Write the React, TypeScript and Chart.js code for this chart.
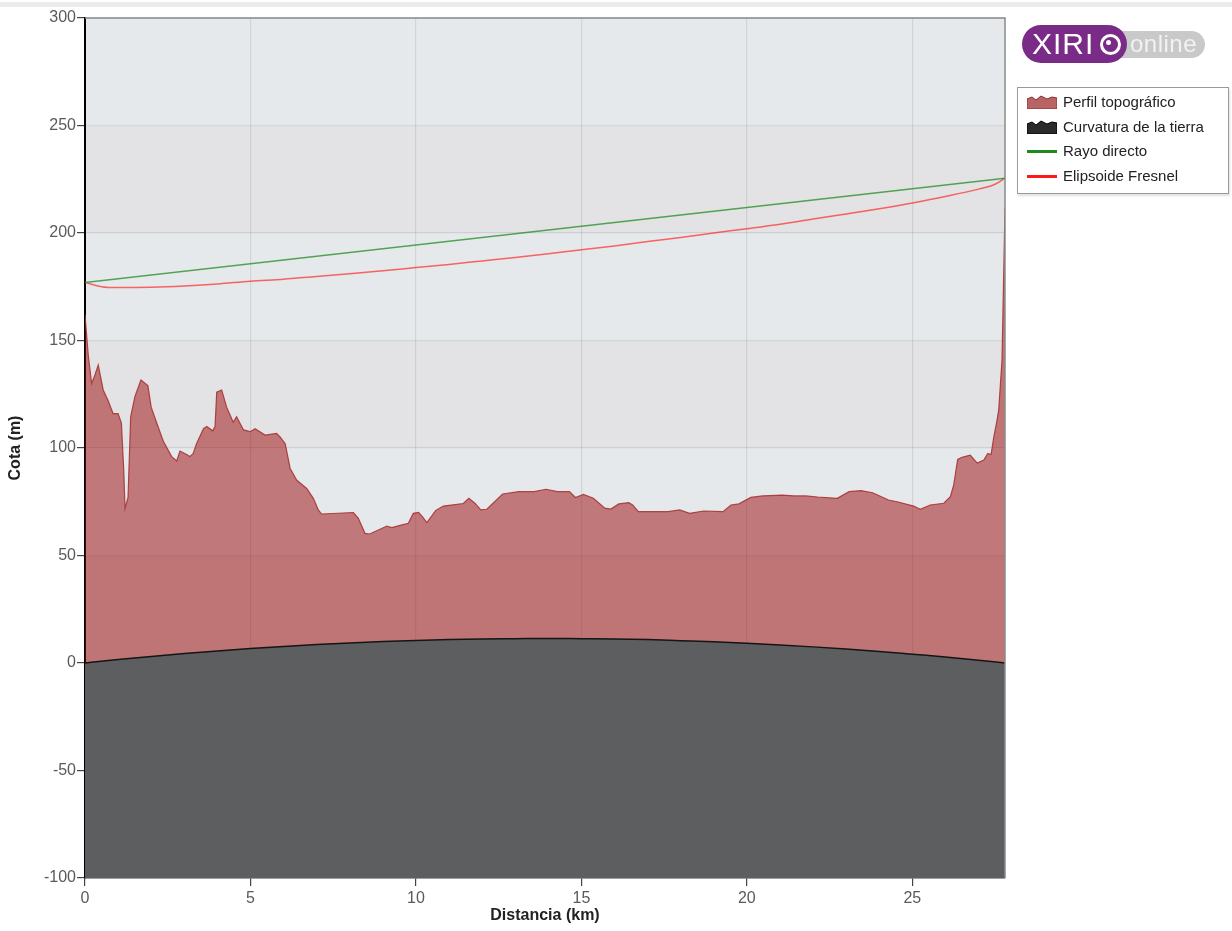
import React, { useEffect, useRef } from "react";
import { Chart, registerables } from "chart.js";

Chart.register(...registerables);

// Perfil topográfico (km, m)
const terrainKm = [
  0, 0.1, 0.2, 0.3, 0.4, 0.55, 0.7, 0.85, 1.0, 1.1, 1.17, 1.21, 1.3, 1.38, 1.51, 1.69, 1.9, 2.0,
  2.17, 2.37, 2.62, 2.77, 2.87, 3.07, 3.17, 3.27, 3.37, 3.58, 3.68, 3.86, 3.93, 3.98, 4.13, 4.28,
  4.48, 4.58, 4.79, 4.99, 5.14, 5.44, 5.79, 5.9, 6.05, 6.2, 6.4, 6.7, 6.9, 7.05, 7.15, 8.11, 8.26,
  8.46, 8.6, 9.12, 9.27, 9.52, 9.77, 9.92, 10.08, 10.2, 10.33, 10.6, 10.83, 11.43, 11.6, 11.79,
  11.96, 12.14, 12.62, 13.1, 13.57, 13.93, 14.28, 14.64, 14.82, 15.06, 15.36, 15.71, 15.89, 16.13,
  16.43, 16.55, 16.72, 17.62, 17.97, 18.27, 18.69, 19.28, 19.52, 19.76, 20.12, 20.47, 21.07, 21.42,
  21.78, 22.14, 22.73, 23.09, 23.45, 23.8, 24.28, 24.54, 25.04, 25.24, 25.54, 25.95, 26.15, 26.25,
  26.37, 26.5, 26.75, 26.96, 27.16, 27.28, 27.38, 27.46, 27.56, 27.61, 27.71, 27.8,
];
const terrainM = [
  162, 143, 130, 134, 138.6, 127, 122, 116, 116, 111.6, 90, 72, 77, 114.5, 124, 131.6, 129, 119,
  111.5, 103, 96, 94, 98.6, 97, 96, 97.5, 102, 109, 110, 108, 110, 126, 127, 119,
  112, 114.6, 108.4, 107.6, 109, 106, 106.8, 105, 102, 90.5, 85, 81.2, 76.6, 71.2, 69.3, 70, 67.3,
  60.3, 60, 63.7, 63, 64, 65, 69.6, 70, 68, 65.3, 71, 73, 74.2, 76.6, 74.2,
  71.2, 71.5, 78.6, 79.7, 79.7, 80.8, 79.7, 79.7, 77, 78.4, 76.6, 72, 71.6, 74,
  74.6, 73.5, 70.4, 70.4, 71.2, 69.6, 70.7, 70.4, 73.5, 74, 77, 77.7, 78.1, 77.7,
  77.7, 77.2, 76.6, 79.7, 80.2, 79.2, 75.8, 75, 73, 71.5, 73.5, 74.3, 77.4, 82.8,
  94.7, 95.7, 96.7, 93, 94.4, 97.5, 97, 105, 113, 117.7, 141, 212,
];

// Curvatura de la tierra (km, m)
const curvKm = [0, 1, 2, 3, 4, 5, 6, 7, 8, 9, 10, 11, 12, 13, 14, 15, 16, 17, 18, 19, 20, 21, 22, 23, 24, 25, 26, 27, 27.8];
const curvM = [0, 1.6, 3, 4.4, 5.6, 6.7, 7.7, 8.6, 9.3, 10, 10.5, 10.9, 11.2, 11.3, 11.4, 11.3, 11.2, 10.9, 10.4, 9.9, 9.2, 8.4, 7.5, 6.5, 5.4, 4.1, 2.8, 1.3, 0];

// Rayo directo (km, m)
const rayKm = [0, 27.8];
const rayM = [177, 225.5];

// Elipsoide Fresnel (km, m)
const fresnelKm = [0, 0.5, 1, 2, 3, 4, 5, 6, 7, 8, 9, 10, 11, 12, 13, 14, 15, 16, 17, 18, 19, 20, 21, 22, 23, 24, 25, 26, 27, 27.5, 27.8];
const fresnelM = [177, 175, 174.6, 174.8, 175.4, 176.3, 177.6, 178.5, 179.8, 181, 182.4, 183.9, 185.4, 187, 188.6, 190.4, 192.2, 194, 196, 197.9, 200, 202, 204.1, 206.5, 208.8, 211.3, 214, 217, 220.4, 222.7, 225.5];

const yTicks = [-100, -50, 0, 50, 100, 150, 200, 250, 300];
const xTicks = [0, 5, 10, 15, 20, 25];

const zip = (xs: number[], ys: number[]) => xs.map((x, i) => ({ x, y: ys[i] }));

const FONT = "'Liberation Sans', Arial, Helvetica, sans-serif";

const bandsPlugin = {
  id: "bands",
  beforeDraw(chart: any) {
    const { ctx, chartArea: a, scales } = chart;
    const y = scales.y;
    ctx.save();
    for (let i = yTicks.length - 1; i > 0; i--) {
      const top = y.getPixelForValue(yTicks[i]);
      const bot = y.getPixelForValue(yTicks[i - 1]);
      const idx = yTicks.length - 1 - i;
      ctx.fillStyle = idx % 2 === 0 ? "#e6e9ec" : "#e3e3e5";
      ctx.fillRect(a.left, top, a.right - a.left, bot - top);
    }
    ctx.restore();
  },
  afterDraw(chart: any) {
    const { ctx, chartArea: a } = chart;
    ctx.save();
    ctx.strokeStyle = "#8a8a8a";
    ctx.lineWidth = 1.5;
    ctx.beginPath();
    ctx.moveTo(a.left, a.top);
    ctx.lineTo(a.right, a.top);
    ctx.lineTo(a.right, a.bottom);
    ctx.stroke();
    ctx.restore();
  },
};

function AreaIcon({ fill, stroke }: { fill: string; stroke: string }) {
  return (
    <svg width={30} height={14} style={{ position: "absolute", left: 0, top: -7 }}>
      <polygon points="0,14 0,4 5,2 9,5 14,1 20,4 25,2 30,3 30,14" fill={fill} stroke={stroke} strokeWidth={1} />
    </svg>
  );
}

function LineIcon({ color }: { color: string }) {
  return <div style={{ position: "absolute", left: 0, top: -1.5, width: 30, height: 3, background: color }} />;
}

const legendItems = [
  { label: "Perfil topográfico", icon: <AreaIcon fill="#b86464" stroke="#8a3030" /> },
  { label: "Curvatura de la tierra", icon: <AreaIcon fill="#2a2a2a" stroke="#000" /> },
  { label: "Rayo directo", icon: <LineIcon color="#1f8a1f" /> },
  { label: "Elipsoide Fresnel", icon: <LineIcon color="#ff1a1a" /> },
];

export default function App() {
  const ref = useRef<HTMLCanvasElement | null>(null);

  useEffect(() => {
    if (!ref.current) return;
    Chart.defaults.font.family = FONT;
    const chart = new Chart(ref.current, {
      type: "line",
      data: {
        datasets: [
          {
            label: "Rayo directo",
            data: zip(rayKm, rayM),
            borderColor: "rgba(30,140,30,0.75)",
            borderWidth: 1.5,
            pointRadius: 0,
            fill: false,
            order: 0,
          },
          {
            label: "Elipsoide Fresnel",
            data: zip(fresnelKm, fresnelM),
            borderColor: "rgba(255,40,40,0.7)",
            borderWidth: 1.5,
            pointRadius: 0,
            fill: false,
            cubicInterpolationMode: "monotone",
            tension: 0.4,
            order: 1,
          },
          {
            label: "Curvatura de la tierra",
            data: zip(curvKm, curvM),
            borderColor: "#151515",
            borderWidth: 1.5,
            backgroundColor: "#5d5e60",
            pointRadius: 0,
            fill: "start",
            cubicInterpolationMode: "monotone",
            tension: 0.4,
            order: 2,
          },
          {
            label: "Perfil topográfico",
            data: zip(terrainKm, terrainM),
            borderColor: "rgba(165,45,45,0.85)",
            borderWidth: 1.2,
            backgroundColor: "rgba(155,8,8,0.5)",
            pointRadius: 0,
            fill: "start",
            order: 3,
          },
        ] as any,
      },
      options: {
        animation: false,
        responsive: false,
        maintainAspectRatio: false,
        devicePixelRatio: 1,
        layout: { padding: { top: 18, right: 227, left: 0, bottom: 0 } },
        plugins: { legend: { display: false }, tooltip: { enabled: false } },
        elements: { line: { tension: 0 } },
        scales: {
          x: {
            type: "linear",
            min: 0,
            max: 27.8,
            z: 1,
            afterBuildTicks: (s: any) => {
              s.ticks = xTicks.map((v) => ({ value: v }));
            },
            ticks: { color: "#5a5a5a", font: { size: 16 }, padding: 3, maxRotation: 0, autoSkip: false },
            grid: { color: "rgba(0,0,0,0.085)", tickColor: "#444", tickLength: 8, lineWidth: 1.2 },
            border: { color: "#444", width: 1.5 },
            title: {
              display: true,
              text: "Distancia (km)",
              color: "#222",
              font: { size: 16, weight: "bold" },
              padding: { top: 0, bottom: 6 },
            },
            afterFit: (s: any) => {
              s.height = 53;
            },
          },
          y: {
            min: -100,
            max: 300,
            z: 1,
            afterBuildTicks: (s: any) => {
              s.ticks = yTicks.map((v) => ({ value: v }));
            },
            ticks: { color: "#5a5a5a", font: { size: 16 }, padding: 1, autoSkip: false },
            grid: { color: "rgba(0,0,0,0.085)", tickColor: "#444", tickLength: 8, lineWidth: 1.2 },
            border: { color: "#000", width: 2 },
            title: {
              display: true,
              text: "Cota (m)",
              color: "#222",
              font: { size: 16, weight: "bold" },
              padding: { top: 6, bottom: 0 },
            },
            afterFit: (s: any) => {
              s.width = 85;
            },
          },
        },
      } as any,
      plugins: [bandsPlugin],
    });
    return () => chart.destroy();
  }, []);

  return (
    <div style={{ position: "fixed", left: 0, top: 0, width: 1232, height: 931, background: "#fff", fontFamily: FONT, overflow: "hidden" }}>
      <div style={{ position: "absolute", left: 0, top: 2, width: 1232, height: 5, background: "#ececec" }} />
      <canvas ref={ref} width={1232} height={931} style={{ position: "absolute", left: 0, top: 0, width: 1232, height: 931 }} />

      {/* logo */}
      <div style={{ position: "absolute", left: 1098, top: 31, width: 107, height: 27, borderRadius: 14, background: "#c9c9c9" }} />
      <div style={{ position: "absolute", left: 1130, top: 30, height: 28, lineHeight: "28px", fontSize: 24, color: "#f2f2f2", letterSpacing: 0.5 }}>online</div>
      <div style={{ position: "absolute", left: 1022, top: 25, width: 105, height: 38, borderRadius: 19, background: "#7a2a87" }} />
      <div style={{ position: "absolute", left: 1032, top: 25, height: 38, lineHeight: "38px", fontSize: 30, color: "#fff", letterSpacing: 1 }}>XIRI</div>
      <div style={{ position: "absolute", left: 1100, top: 34, width: 15, height: 15, border: "3px solid #fff", borderRadius: "50%" }} />
      <div style={{ position: "absolute", left: 1106, top: 40, width: 5, height: 5, background: "#fff", borderRadius: "50%" }} />

      {/* legend */}
      <div
        style={{
          position: "absolute",
          left: 1017,
          top: 87,
          width: 210,
          height: 105,
          border: "1px solid #9a9a9a",
          background: "#fff",
          boxShadow: "1px 2px 2px rgba(0,0,0,0.12)",
        }}
      />
      {legendItems.map((it, i) => (
        <div key={it.label} style={{ position: "absolute", left: 1027, top: 102 + i * 24.7, width: 200, height: 0 }}>
          {it.icon}
          <div style={{ position: "absolute", left: 36, top: -10, lineHeight: "20px", fontSize: 15, color: "#222", whiteSpace: "nowrap" }}>{it.label}</div>
        </div>
      ))}
    </div>
  );
}
